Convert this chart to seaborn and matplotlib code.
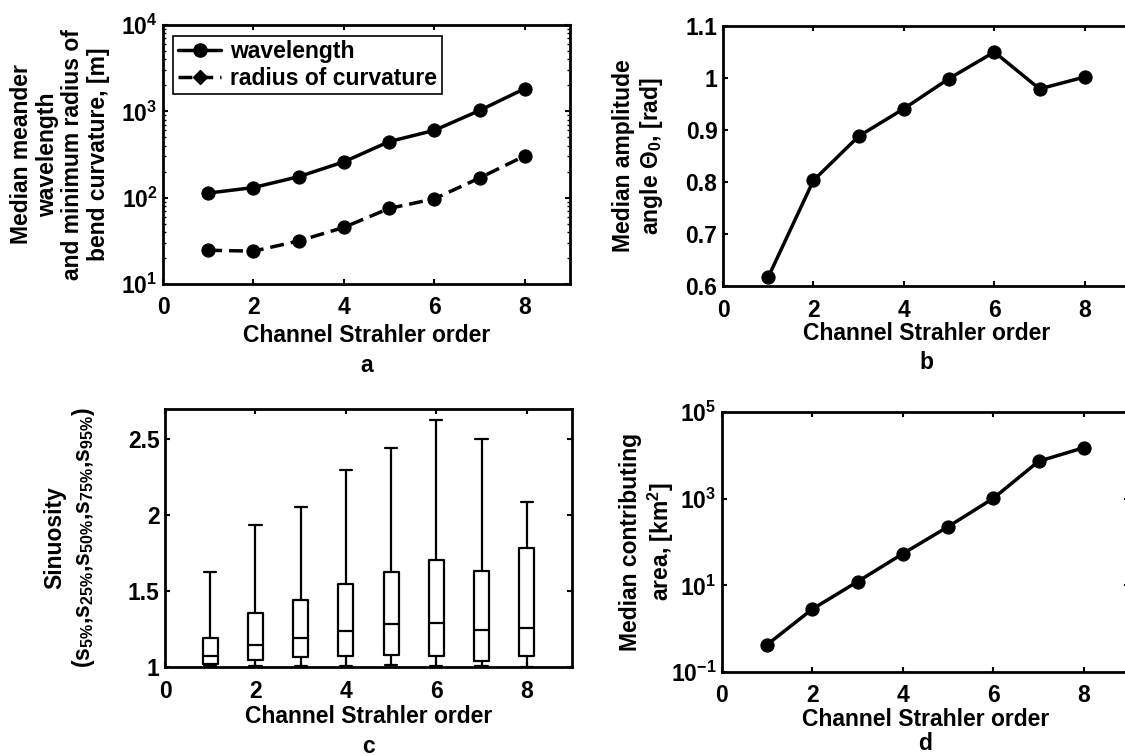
import numpy as np
import matplotlib
matplotlib.use("Agg")
import matplotlib.pyplot as plt
import matplotlib.transforms as mtransforms
from matplotlib.lines import Line2D
import seaborn as sns

# ---------------- data ----------------
orders = [1, 2, 3, 4, 5, 6, 7, 8]
wavelength = [113, 131, 175, 260, 446, 602, 1023, 1834]
radius_curv = [24.6, 24.0, 31.5, 45.3, 75, 97, 169, 305]
amp_angle = [0.617, 0.803, 0.888, 0.941, 0.999, 1.050, 0.979, 1.002]
contrib_area = [0.43, 2.84, 12.2, 53.8, 226, 1018, 7270, 15000]
sin_p5 = [1.009, 1.007, 1.009, 1.009, 1.011, 1.007, 1.007, 1.001]
sin_p25 = [1.022, 1.048, 1.064, 1.072, 1.077, 1.075, 1.042, 1.072]
sin_p50 = [1.075, 1.143, 1.193, 1.235, 1.281, 1.289, 1.243, 1.257]
sin_p75 = [1.193, 1.353, 1.441, 1.550, 1.627, 1.704, 1.634, 1.783]
sin_p95 = [1.627, 1.936, 2.055, 2.296, 2.443, 2.625, 2.500, 2.090]
xticks = [0, 2, 4, 6, 8]

FS = 16.5

# ---------------- style ----------------
sns.set_theme(style="ticks")
plt.rcParams.update({
    "font.family": ["Liberation Sans", "DejaVu Sans"],
    "font.weight": "bold",
    "axes.labelweight": "bold",
    "font.size": FS,
    "mathtext.fontset": "custom",
    "mathtext.rm": "Liberation Sans:bold",
    "mathtext.it": "Liberation Sans:bold:italic",
    "mathtext.bf": "Liberation Sans:bold",
    "mathtext.sf": "Liberation Sans:bold",
    "axes.linewidth": 2.0,
    "axes.edgecolor": "black",
    "xtick.color": "black",
    "ytick.color": "black",
    "text.color": "black",
    "axes.labelcolor": "black",
})

fig = plt.figure(figsize=(11.25, 7.56), dpi=100)
W, H = 1125.0, 756.0

def make_ax(left, right, top, bottom):
    return fig.add_axes([left / W, 1 - bottom / H, (right - left) / W, (bottom - top) / H])

ax_a = make_ax(163, 570, 25, 284)
ax_b = make_ax(723, 1130, 26, 286)
ax_c = make_ax(165, 572, 409, 667)
ax_d = make_ax(722, 1129, 412, 672)

LW = 2.5
MS = 9.5

def style_axis(ax):
    ax.set_xlim(0, 9)
    ax.set_xticks(xticks)
    ax.tick_params(which="major", direction="in", length=3.5, width=1.5,
                   top=True, right=True, labelsize=FS)
    ax.tick_params(axis="x", which="major", pad=9)
    ax.tick_params(axis="y", which="major", pad=4)
    ax.tick_params(which="minor", direction="in", length=2.5, width=1.0,
                   top=True, right=True)
    for lab in ax.get_xticklabels() + ax.get_yticklabels():
        lab.set_fontweight("bold")
    for s in ax.spines.values():
        s.set_visible(True)
        s.set_linewidth(2.0)

XL_SP = 1.38
YL_SP = 1.15

# ---- panel a ----
ax_a.set_yscale("log")
sns.lineplot(x=orders, y=wavelength, ax=ax_a, color="black", lw=LW,
             marker="o", markersize=MS, markeredgecolor="black")
sns.lineplot(x=orders, y=radius_curv, ax=ax_a, color="black", lw=LW,
             linestyle=(0, (4, 2)), marker="o", markersize=MS, markeredgecolor="black")
ax_a.set_ylim(10, 1e4)
ax_a.set_yticks([10, 100, 1000, 10000])
style_axis(ax_a)
ax_a.xaxis.set_minor_locator(matplotlib.ticker.NullLocator())
handles = [
    Line2D([], [], color="black", lw=LW, marker="o", markersize=MS),
    Line2D([], [], color="black", lw=LW, linestyle=(0, (4, 2)), marker="D", markersize=7),
]
leg = ax_a.legend(handles, ["wavelength", "radius of curvature"], loc="upper left",
                  bbox_to_anchor=(0.025, 0.958), borderaxespad=0, frameon=True,
                  fancybox=False, edgecolor="black", framealpha=1, fontsize=FS,
                  handlelength=1.9, borderpad=0.2, labelspacing=0.15, handletextpad=0.4)
leg.get_frame().set_linewidth(1.2)
for t in leg.get_texts():
    t.set_fontweight("bold")
ax_a.set_xlabel("Channel Strahler order\na", fontsize=FS, fontweight="bold",
                labelpad=3, linespacing=XL_SP)
ax_a.set_ylabel("Median meander\nwavelength\nand minimum radius of\nbend curvature, [m]",
                fontsize=FS, fontweight="bold", linespacing=YL_SP)
ax_a.yaxis.set_label_coords(-0.13, 0.5)

# ---- panel b ----
sns.lineplot(x=orders, y=amp_angle, ax=ax_b, color="black", lw=LW,
             marker="o", markersize=MS, markeredgecolor="black")
ax_b.set_ylim(0.6, 1.1)
ax_b.set_yticks([0.6, 0.7, 0.8, 0.9, 1.0, 1.1])
ax_b.set_yticklabels(["0.6", "0.7", "0.8", "0.9", "1", "1.1"])
style_axis(ax_b)
ax_b.set_xlabel("Channel Strahler order\nb", fontsize=FS, fontweight="bold",
                labelpad=0, linespacing=XL_SP)
ax_b.set_ylabel("Median amplitude\nangle $\\Theta_0$, [rad]", fontsize=FS,
                fontweight="bold", linespacing=YL_SP)
ax_b.yaxis.set_label_coords(-0.142, 0.5)

# ---- panel c ----
stats = []
for i in range(len(orders)):
    stats.append({"whislo": sin_p5[i], "q1": sin_p25[i], "med": sin_p50[i],
                  "q3": sin_p75[i], "whishi": sin_p95[i], "fliers": []})
ax_c.bxp(stats, positions=orders, widths=0.33, capwidths=0.27, showfliers=False,
         boxprops=dict(color="black", linewidth=1.6),
         whiskerprops=dict(color="black", linewidth=1.6),
         capprops=dict(color="black", linewidth=1.6),
         medianprops=dict(color="black", linewidth=1.6))
ax_c.set_ylim(1, 2.7)
ax_c.set_yticks([1, 1.5, 2, 2.5])
ax_c.set_yticklabels(["1", "1.5", "2", "2.5"])
style_axis(ax_c)
ax_c.set_xticklabels([str(t) for t in xticks])
ax_c.set_xlabel("Channel Strahler order\nc", fontsize=FS, fontweight="bold",
                labelpad=2, linespacing=XL_SP)
ax_c.set_ylabel("Sinuosity\n(s$_{5\\%}$,s$_{25\\%}$,s$_{50\\%}$,s$_{75\\%}$,s$_{95\\%}$)",
                fontsize=FS, fontweight="bold", linespacing=YL_SP)
ax_c.yaxis.set_label_coords(-0.168, 0.5)

# ---- panel d ----
ax_d.set_yscale("log")
sns.lineplot(x=orders, y=contrib_area, ax=ax_d, color="black", lw=LW,
             marker="o", markersize=MS, markeredgecolor="black")
ax_d.set_ylim(0.1, 1e5)
ax_d.set_yticks([0.1, 10, 1000, 1e5])
ax_d.yaxis.set_minor_locator(matplotlib.ticker.NullLocator())
style_axis(ax_d)
ax_d.set_xlabel("Channel Strahler order", fontsize=FS, fontweight="bold", labelpad=0)
trans_d = mtransforms.blended_transform_factory(ax_d.transAxes, fig.transFigure)
ax_d.text(0.5, 1.5 / H, "d", transform=trans_d, ha="center", va="bottom",
          fontsize=FS, fontweight="bold")
ax_d.set_ylabel("Median contributing\narea, [km$^2$]", fontsize=FS,
                fontweight="bold", linespacing=YL_SP)
ax_d.yaxis.set_label_coords(-0.113, 0.5)

fig.savefig("out.png", dpi=100)
